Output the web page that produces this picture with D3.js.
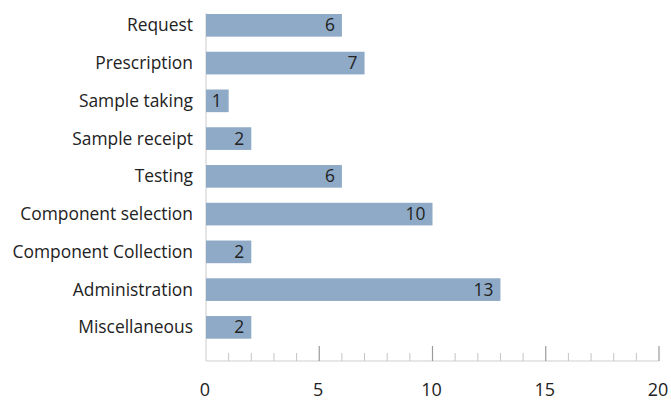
<!DOCTYPE html>
<html>
<head>
<meta charset="utf-8">
<script src="https://cdn.jsdelivr.net/npm/d3@7"></script>
<style>
  html, body { margin: 0; padding: 0; background: #fff; }
  svg { display: block; }
  text { font-family: "Open Sans", sans-serif; fill: #222; }
</style>
</head>
<body>
<svg id="chart" width="671" height="401"></svg>
<script>
const categories = ["Request", "Prescription", "Sample taking", "Sample receipt", "Testing",
  "Component selection", "Component Collection", "Administration", "Miscellaneous"];
const values = [6, 7, 1, 2, 6, 10, 2, 13, 2];
const majorTicks = [0, 5, 10, 15, 20];
const minorTicks = d3.range(0, 21, 1);

const svg = d3.select("#chart");
const x = d3.scaleLinear().domain([0, 20]).range([206, 659]);
const y = d3.scaleBand().domain(categories).range([14, 338.7]).paddingInner(0.4).paddingOuter(0);
const axisY = 361;
const fontSize = 17.4;

// vertical axis line
svg.append("line")
  .attr("x1", x(0)).attr("x2", x(0))
  .attr("y1", 13).attr("y2", axisY)
  .attr("stroke", "#d4d4d4").attr("stroke-width", 1.2);

// bars
svg.append("g").selectAll("rect")
  .data(categories)
  .join("rect")
  .attr("x", x(0))
  .attr("y", d => y(d))
  .attr("width", (d, i) => x(values[i]) - x(0))
  .attr("height", y.bandwidth())
  .attr("fill", "#8eaac7");

// value labels
svg.append("g").selectAll("text")
  .data(categories)
  .join("text")
  .attr("x", (d, i) => x(values[i]) - 7)
  .attr("y", d => y(d) + y.bandwidth() / 2)
  .attr("dy", "0.35em")
  .attr("text-anchor", "end")
  .style("font-size", fontSize + "px")
  .text((d, i) => values[i]);

// category labels
svg.append("g").selectAll("text")
  .data(categories)
  .join("text")
  .attr("x", 193)
  .attr("y", d => y(d) + y.bandwidth() / 2)
  .attr("dy", "0.35em")
  .attr("text-anchor", "end")
  .style("font-size", fontSize + "px")
  .text(d => d);

// x axis
const xAxis = svg.append("g").attr("transform", `translate(0,${axisY})`);
xAxis.append("line")
  .attr("x1", x(0)).attr("x2", x(20))
  .attr("stroke", "#cfcfcf").attr("stroke-width", 1.2);
xAxis.selectAll("line.minor")
  .data(minorTicks.filter(d => d % 5 !== 0))
  .join("line").attr("class", "minor")
  .attr("x1", d => x(d)).attr("x2", d => x(d))
  .attr("y1", 0).attr("y2", -8)
  .attr("stroke", "#c4c4c4").attr("stroke-width", 1);
xAxis.selectAll("line.major")
  .data(majorTicks.filter(d => d > 0))
  .join("line").attr("class", "major")
  .attr("x1", d => x(d)).attr("x2", d => x(d))
  .attr("y1", 0).attr("y2", -15)
  .attr("stroke", "#9a9a9a").attr("stroke-width", 1.2);
xAxis.selectAll("text")
  .data(majorTicks)
  .join("text")
  .attr("x", d => x(d) - 1)
  .attr("y", 35)
  .attr("text-anchor", "middle")
  .style("font-size", "18px")
  .text(d => d);
</script>
</body>
</html>
